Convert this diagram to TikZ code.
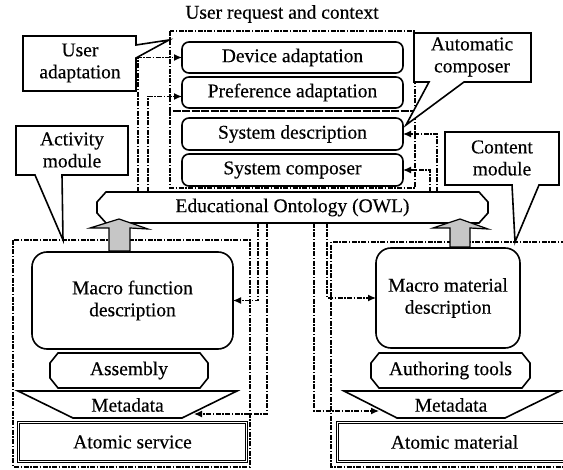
\documentclass[tikz,border=0pt]{standalone}
\usepackage{fontspec}
\setmainfont{Liberation Serif}[FakeBold=0.35]
\usetikzlibrary{arrows.meta,calc}
\begin{document}
\begin{tikzpicture}[x=1pt,y=-1pt,
  every node/.style={font=\fontsize{19.5}{22}\selectfont, inner sep=0pt, outer sep=0pt},
  rbox/.style={draw, line width=1.6pt, rounded corners=7pt, fill=white, minimum width=221pt, minimum height=31pt},
  bigbox/.style={draw, line width=1.6pt, rounded corners=15pt, fill=white, align=center},
  outline/.style={draw, line width=1.6pt, fill=white, line join=miter},
  callout/.style={draw, line width=1.6pt, fill=white, line join=miter},
  dbox/.style={line width=1.2pt, dash pattern=on 5pt off 1.5pt on 1.5pt off 1.5pt},
  conn/.style={line width=1.2pt, dash pattern=on 5pt off 1.5pt on 1.5pt off 1.5pt, -{Latex[length=8pt,width=7pt]}},
  blockarrow/.style={draw, line width=1.2pt, fill=gray!45, line join=miter},
  dline/.style={draw, double, line width=1.1pt, double distance=1.4pt}
]
\useasboundingbox (0,0) rectangle (563,470);
\clip (0,0) rectangle (563,470);

% title
\node (title) at (282,14) {User request and context};

% dashed region boxes
\draw[dbox] (170,31) rectangle (415,111);
\draw[dbox] (170,111) rectangle (415,188);
\draw[dbox] (13,240) rectangle (250,467);
\draw[dbox] (575,242) -- (331,242) -- (331,467) -- (575,467);

% named nodes (shapes)
\node[rbox] (dev)  at (292.5,57.5) {Device adaptation};
\node[rbox] (pref) at (292.5,92.5) {Preference adaptation};
\node[rbox, minimum height=32pt] (sysd) at (292.5,134) {System description};
\node[rbox, minimum height=32pt] (sysc) at (292.5,170) {System composer};

\node[minimum width=391pt, minimum height=31pt] (ont) at (292.5,207.5) {};
\draw[outline] ($(ont.north west)+(9,0)$) -- ($(ont.north east)+(-9,0)$) -- ($(ont.north east)+(0,10)$)
  -- ($(ont.south east)+(0,-10)$) -- ($(ont.south east)+(-9,0)$) -- ($(ont.south west)+(9,0)$)
  -- ($(ont.south west)+(0,-10)$) -- ($(ont.north west)+(0,10)$) -- cycle;
\node at (ont.center) {Educational Ontology (OWL)};

\node[bigbox, minimum width=201pt, minimum height=97pt] (mfd) at (132.5,300.5) {Macro function\\description};
\node[bigbox, minimum width=144pt, minimum height=100pt] (mmd) at (448,298) {Macro material\\description};

\node[minimum width=158pt, minimum height=35pt] (asm) at (129,370.5) {};
\draw[outline] ($(asm.north west)+(8,0)$) -- ($(asm.north east)+(-8,0)$) -- ($(asm.north east)+(0,10)$)
  -- ($(asm.south east)+(0,-10)$) -- ($(asm.south east)+(-8,0)$) -- ($(asm.south west)+(8,0)$)
  -- ($(asm.south west)+(0,-10)$) -- ($(asm.north west)+(0,10)$) -- cycle;
\node at (asm.center) {Assembly};

\node[minimum width=159pt, minimum height=35pt] (aut) at (450.5,370.5) {};
\draw[outline] ($(aut.north west)+(8,0)$) -- ($(aut.north east)+(-8,0)$) -- ($(aut.north east)+(0,10)$)
  -- ($(aut.south east)+(0,-10)$) -- ($(aut.south east)+(-8,0)$) -- ($(aut.south west)+(8,0)$)
  -- ($(aut.south west)+(0,-10)$) -- ($(aut.north west)+(0,10)$) -- cycle;
\node at (aut.center) {Authoring tools};

% metadata trapezoids
\coordinate (mdl1) at (18,391); \coordinate (mdl2) at (237,391);
\coordinate (mdl3) at (182,418); \coordinate (mdl4) at (73,418);
\draw[outline] (mdl1) -- (mdl2) -- (mdl3) -- (mdl4) -- cycle;
\node (mdl) at (127.5,405) {Metadata};
\coordinate (mdr1) at (344,391); \coordinate (mdr2) at (560,391);
\coordinate (mdr3) at (505,418); \coordinate (mdr4) at (397,418);
\draw[outline] (mdr1) -- (mdr2) -- (mdr3) -- (mdr4) -- cycle;
\node (mdr) at (451,405) {Metadata};

% atomic boxes
\draw[dline] (18.5,422.5) rectangle (246.5,461.5);
\node (ats) at (132.5,442) {Atomic service};
\draw[dline] (337.5,422.5) rectangle (590,461.5);
\node (atm) at (454.5,442) {Atomic material};

% connectors
\coordinate (k1) at (138,0); \coordinate (k2) at (148,0);
\coordinate (k3) at (437,0); \coordinate (k4) at (430,0);
\coordinate (k5) at (258,0); \coordinate (k6) at (267,0);
\coordinate (k7) at (314,0); \coordinate (k8) at (327,0);
\coordinate (m1) at (194,414); \coordinate (m2) at (379,411);
\draw[conn] (k1 |- ont.north) |- (dev.west);
\draw[conn] (k2 |- ont.north) |- ([yshift=-4pt]pref.west);
\draw[conn] (k3 |- ont.north) |- (sysd.east);
\draw[conn] (k4 |- ont.north) |- (sysc.east);
\draw[conn] (k5 |- ont.south) |- (mfd.east);
\draw[conn] (k6 |- ont.south) |- (m1);
\draw[conn] (k7 |- ont.south) |- (m2);
\draw[conn] (k8 |- ont.south) |- (mmd.west);

% block arrows
\draw[blockarrow] (109,251) -- (109,228) -- (90,228) -- (119,219) -- (148,229) -- (130,228) -- (130,251) -- cycle;
\draw[blockarrow] (450,247) -- (450,228) -- (433,228) -- (460,219) -- (488,229) -- (470,228) -- (470,247) -- cycle;

% callouts
\draw[callout] (23,36) -- (136,36) -- (136,45) -- (169,40) -- (136,58) -- (136,91) -- (23,91) -- cycle;
\node[align=center] (ua) at (80,63) {User\\adaptation};
\draw[callout] (414,33) -- (531,33) -- (531,82) -- (464,82) -- (406,125) -- (429,82) -- (414,82) -- cycle;
\node[align=center] (ac) at (472,57) {Automatic\\composer};
\draw[callout] (16,126) -- (128,126) -- (128,175) -- (62,175) -- (63,240) -- (35,175) -- (16,175) -- cycle;
\node[align=center] (am) at (72,150) {Activity\\module};
\draw[callout] (445,132) -- (559,132) -- (559,185) -- (539,185) -- (515,242) -- (512,185) -- (445,185) -- cycle;
\node[align=center] (cm) at (502,158) {Content\\module};
\end{tikzpicture}
\end{document}
